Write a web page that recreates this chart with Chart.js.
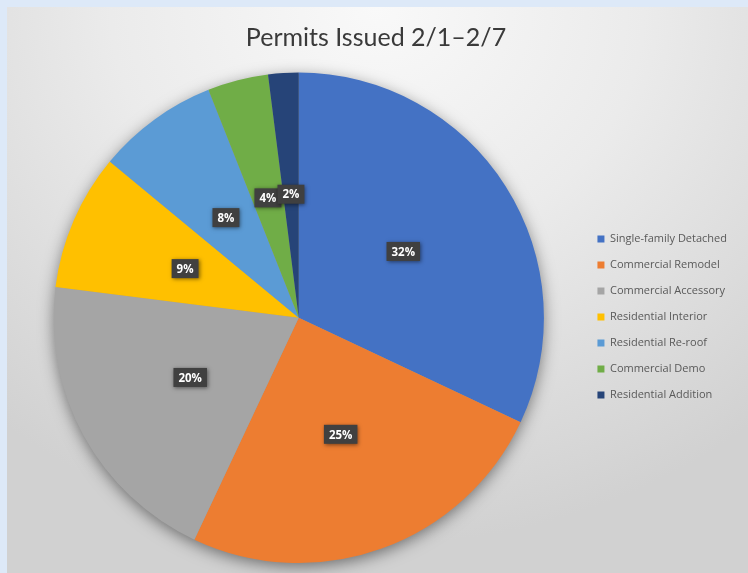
<!DOCTYPE html>
<html>
<head>
<meta charset="utf-8">
<script src="https://cdn.jsdelivr.net/npm/chart.js@4.4.1/dist/chart.umd.min.js"></script>
<style>
  html, body { margin: 0; padding: 0; background: #dde9f8; width: 748px; height: 573px; overflow: hidden; }
  #wrap {
    position: absolute; left: 7px; top: 7px; width: 741px; height: 566px;
    background: radial-gradient(ellipse 80% 95% at 50% 0%, #f9f9f9 0%, #ebebeb 45%, #d1d1d1 100%);
  }
</style>
</head>
<body>
<div id="wrap"><canvas id="permitsChart"></canvas></div>
<script>
// Data for the chart
const categories = ["Single-family Detached", "Commercial Remodel", "Commercial Accessory", "Residential Interior", "Residential Re-roof", "Commercial Demo", "Residential Addition"];
const percents = [32, 25, 20, 9, 8, 4, 2];
const sliceColors = ["#4472C4", "#ED7D31", "#A5A5A5", "#FFC000", "#5B9BD5", "#70AD47", "#264478"];

// soft shadow under the pie
const pieShadow = {
  id: 'pieShadow',
  beforeDatasetsDraw(chart) {
    const arc = chart.getDatasetMeta(0).data[0];
    if (!arc) return;
    const ctx = chart.ctx;
    ctx.save();
    ctx.shadowColor = 'rgba(0,0,0,0.5)';
    ctx.shadowBlur = 16;
    ctx.shadowOffsetX = 0;
    ctx.shadowOffsetY = 4;
    ctx.fillStyle = '#999';
    ctx.beginPath();
    ctx.arc(arc.x, arc.y, arc.outerRadius - 1, 0, Math.PI * 2);
    ctx.fill();
    ctx.restore();
  }
};

// dark label boxes with the percentage
const sliceLabels = {
  id: 'sliceLabels',
  afterDatasetsDraw(chart) {
    const ctx = chart.ctx;
    const meta = chart.getDatasetMeta(0);
    ctx.save();
    ctx.font = 'bold 11.5px "Open Sans"';
    ctx.textAlign = 'center';
    ctx.textBaseline = 'middle';
    meta.data.forEach((arc, i) => {
      const p = arc.getProps(['x', 'y', 'startAngle', 'endAngle', 'outerRadius']);
      const mid = (p.startAngle + p.endAngle) / 2;
      const r = p.outerRadius * 0.505;
      const x = p.x + Math.cos(mid) * r;
      const y = p.y + Math.sin(mid) * r;
      const txt = percents[i] + '%';
      const w = ctx.measureText(txt).width + 10;
      const h = 19;
      ctx.shadowColor = 'rgba(0,0,0,0.5)';
      ctx.shadowBlur = 4;
      ctx.shadowOffsetX = 1;
      ctx.shadowOffsetY = 1;
      ctx.fillStyle = '#404040';
      ctx.fillRect(x - w / 2, y - h / 2, w, h);
      ctx.shadowColor = 'transparent';
      ctx.fillStyle = '#ffffff';
      ctx.fillText(txt, x, y + 1);
    });
    ctx.restore();
  }
};

const config = {
  type: 'pie',
  data: {
    labels: categories,
    datasets: [{
      data: percents,
      backgroundColor: sliceColors,
      borderWidth: 0
    }]
  },
  options: {
    responsive: true,
    maintainAspectRatio: false,
    animation: false,
    layout: { padding: { left: 8, right: 11, top: 0, bottom: 10 } },
    plugins: {
      title: {
        display: true,
        text: 'Permits Issued 2/1\u20132/7',
        color: '#3a3a3a',
        font: { family: 'Lato', size: 25, weight: 'normal' },
        padding: { top: 16, bottom: 19.6 }
      },
      legend: {
        position: 'right',
        title: {
          display: true,
          text: '',
          font: { size: 10, lineHeight: 1 },
          padding: { top: 54, bottom: 0 }
        },
        labels: {
          boxWidth: 7,
          boxHeight: 7,
          padding: 15,
          color: '#595959',
          font: { family: '"Open Sans"', size: 11 }
        }
      },
      tooltip: { enabled: false }
    }
  },
  plugins: [pieShadow, sliceLabels]
};

window.addEventListener('DOMContentLoaded', () => {
  const permitsChart = new Chart(document.getElementById('permitsChart'), config);
});
</script>
</body>
</html>
